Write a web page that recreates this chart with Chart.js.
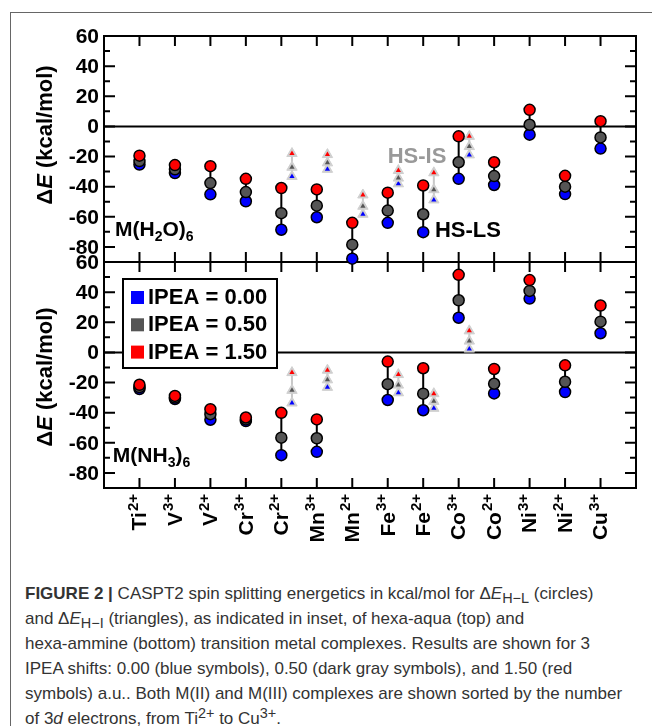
<!DOCTYPE html>
<html>
<head>
<meta charset="utf-8">
<script src="https://cdn.jsdelivr.net/npm/chart.js@4.4.1/dist/chart.umd.min.js"></script>
<style>
  body { margin:0; background:#fff; width:652px; height:726px; overflow:hidden; position:relative; font-family:"Liberation Sans", Arial, sans-serif; }
  #frame { position:absolute; left:10px; top:12px; width:700px; height:760px; border-left:1.5px solid #666; border-top:1.5px solid #666; }
  canvas { position:absolute; left:0; top:0; }
  #topPanel { z-index:2; }
  #botPanel { z-index:1; }
  #caption { position:absolute; left:25px; top:581px; font-size:17px; line-height:25px; color:#333; white-space:nowrap; }
  #caption sub { font-size:0.85em; vertical-align:-0.3em; line-height:0; }
  #caption sup { font-size:0.85em; vertical-align:0.45em; line-height:0; }
</style>
</head>
<body>
<div id="frame"></div>
<canvas id="topPanel" width="652" height="560"></canvas>
<canvas id="botPanel" width="652" height="560"></canvas>
<div id="caption">
<div><b>FIGURE 2 |</b> CASPT2 spin splitting energetics in kcal/mol for Δ<i>E</i><sub>H−L</sub> (circles)</div>
<div>and Δ<i>E</i><sub>H−I</sub> (triangles), as indicated in inset, of hexa-aqua (top) and</div>
<div>hexa-ammine (bottom) transition metal complexes. Results are shown for 3</div>
<div>IPEA shifts: 0.00 (blue symbols), 0.50 (dark gray symbols), and 1.50 (red</div>
<div>symbols) a.u.. Both M(II) and M(III) complexes are shown sorted by the number</div>
<div>of 3<i>d</i> electrons, from Ti<sup>2+</sup> to Cu<sup>3+</sup>.</div>
</div>
<script>
const categories = ["Ti", "V", "V", "Cr", "Cr", "Mn", "Mn", "Fe", "Fe", "Co", "Co", "Ni", "Ni", "Cu"];
const charges = ["2+", "3+", "2+", "3+", "2+", "3+", "2+", "3+", "2+", "3+", "2+", "3+", "2+", "3+"];
const ipeaLabels = ["IPEA = 0.00", "IPEA = 0.50", "IPEA = 1.50"];
const ipeaColors = ["#0000ff", "#555555", "#ff0000"];

// hexa-aqua, high-low spin (circles)
const aquaHL000 = [-25.3, -31.0, -45.1, -49.7, -68.6, -60.3, -87.8, -64.0, -70.2, -34.8, -38.9, -5.5, -44.9, -14.7];
const aquaHL050 = [-23.0, -28.5, -37.6, -43.6, -57.6, -52.6, -78.5, -55.9, -58.3, -23.8, -33.0, 1.1, -40.0, -7.3];
const aquaHL150 = [-19.4, -25.7, -26.4, -34.8, -40.9, -41.8, -64.0, -44.0, -39.2, -6.6, -23.8, 11.0, -32.8, 3.5];
// hexa-aqua, high-intermediate spin (triangles)
const aquaHI000 = [null, null, null, null, -33.2, -28.5, -58.3, -38.1, -48.8, -18.9, null, null, null, null];
const aquaHI050 = [null, null, null, null, -27.1, -24.2, -53.0, -34.3, -42.0, -13.4, null, null, null, null];
const aquaHI150 = [null, null, null, null, -18.0, -18.7, -45.5, -29.3, -30.8, -6.6, null, null, null, null];

// hexa-ammine
const ammHL000 = [-24.3, -30.9, -44.7, -45.6, -68.2, -66.0, null, -31.6, -38.4, 23.0, -27.2, 35.7, -26.3, 12.7];
const ammHL050 = [-23.0, -30.0, -41.0, -44.5, -56.6, -57.0, null, -21.1, -27.4, 34.6, -20.8, 40.8, -19.5, 20.4];
const ammHL150 = [-21.5, -28.9, -37.7, -43.2, -40.1, -44.5, null, -6.1, -10.5, 51.5, -11.0, 48.0, -8.6, 31.1];
const ammHI000 = [null, null, null, null, -33.6, -23.2, null, -26.8, -37.1, 2.2, null, null, null, null];
const ammHI050 = [null, null, null, null, -25.2, -18.2, null, -21.7, -32.5, 7.5, null, null, null, null];
const ammHI150 = [null, null, null, null, -13.4, -11.8, null, -14.7, -27.4, 14.3, null, null, null, null];

const triOffset = 0.3;
const FONT = '"Liberation Sans", Arial, sans-serif';

function stemData(series, dx) {
  const pts = [];
  categories.forEach((c, i) => {
    const vals = series.map(s => s[i]).filter(v => v !== null);
    if (vals.length < 2) return;
    pts.push({x: i + 1 + dx, y: Math.max(...vals)}, {x: i + 1 + dx, y: Math.min(...vals)}, {x: i + 1.5 + dx, y: null});
  });
  return pts;
}

function pointsOf(values, dx) {
  return values.map((v, i) => ({x: i + 1 + dx, y: v}));
}

function buildDatasets(hl, hi) {
  const ds = [];
  ds.push({data: stemData(hl, 0), showLine: true, spanGaps: false, borderColor: "#000", borderWidth: 2, pointRadius: 0, order: 20, clip: false});
  ds.push({data: stemData(hi, triOffset), showLine: true, spanGaps: false, borderColor: "#c8c8c8", borderWidth: 2, pointRadius: 0, order: 30, clip: false});
  hi.forEach((s, k) => {
    ds.push({data: pointsOf(s, triOffset), pointStyle: "triangle", pointRadius: 6, backgroundColor: "#cfcfcf", borderColor: "#cfcfcf", borderWidth: 1, order: 25 - k * 2, clip: false});
    ds.push({data: pointsOf(s, triOffset), pointStyle: "triangle", pointRadius: 3, backgroundColor: ipeaColors[k], borderWidth: 0, order: 24 - k * 2, clip: false});
  });
  hl.forEach((s, k) => {
    ds.push({data: pointsOf(s, 0), pointStyle: "circle", pointRadius: 5.5, backgroundColor: ipeaColors[k], borderColor: "#000", borderWidth: 1.5, order: 3 - k, clip: false});
  });
  return ds;
}

function drawRich(ctx, x, y, parts) {
  // parts: [text, font, dy]
  let cx = x;
  parts.forEach(([t, f, dy]) => {
    ctx.font = f;
    ctx.fillText(t, cx, y + (dy || 0));
    cx += ctx.measureText(t).width;
  });
}

const panelPlugin = {
  id: "panel",
  beforeDatasetsDraw(chart, args, opts) {
    const {ctx, chartArea: a} = chart;
    const xs = chart.scales.x, ys = chart.scales.y;
    ctx.save();
    ctx.strokeStyle = "#000";
    ctx.lineWidth = 2;
    // zero line
    const y0 = ys.getPixelForValue(0);
    ctx.beginPath(); ctx.moveTo(a.left, y0); ctx.lineTo(a.right, y0); ctx.stroke();
    // frame
    ctx.strokeRect(a.left, a.top, a.right - a.left, a.bottom - a.top);
    // y ticks, both sides, inward
    for (let v = ys.min + 10; v < ys.max; v += 10) {
      const py = ys.getPixelForValue(v);
      const len = v % 20 === 0 ? 11 : 6;
      ctx.beginPath();
      ctx.moveTo(a.left, py); ctx.lineTo(a.left + len, py);
      ctx.moveTo(a.right, py); ctx.lineTo(a.right - len, py);
      ctx.stroke();
    }
    // x ticks top and bottom, inward
    for (let i = 1; i <= categories.length; i++) {
      const px = xs.getPixelForValue(i);
      ctx.beginPath();
      ctx.moveTo(px, a.top); ctx.lineTo(px, a.top + 10);
      ctx.moveTo(px, a.bottom); ctx.lineTo(px, a.bottom - 10);
      ctx.stroke();
    }
    ctx.restore();
  },
  afterDraw(chart, args, opts) {
    const {ctx, chartArea: a} = chart;
    const xs = chart.scales.x, ys = chart.scales.y;
    ctx.save();
    ctx.fillStyle = "#000";
    // y tick labels
    ctx.font = "bold 21px " + FONT;
    ctx.textAlign = "right";
    ctx.textBaseline = "middle";
    for (let v = ys.min; v <= ys.max; v += 10) {
      if (v % 20 !== 0) continue;
      ctx.fillText(String(v), a.left - 5, ys.getPixelForValue(v) + 1);
    }
    // y axis title
    ctx.save();
    ctx.translate(46, opts.titleY);
    ctx.rotate(-Math.PI / 2);
    ctx.textAlign = "left";
    const parts = [["\u0394", "bold 22px " + FONT], ["E", "italic bold 22px " + FONT], [" (kcal/mol)", "bold 22px " + FONT]];
    let w = 0;
    parts.forEach(([t, f]) => { ctx.font = f; w += ctx.measureText(t).width; });
    drawRich(ctx, -w / 2, 0, parts);
    ctx.restore();

    // complex name
    ctx.textAlign = "left";
    ctx.textBaseline = "alphabetic";
    const big = "bold 21px " + FONT, sm = "bold 14px " + FONT;
    const nx = xs.getPixelForValue(opts.name.x), ny = ys.getPixelForValue(opts.name.y);
    drawRich(ctx, nx, ny, opts.name.parts.map(([t, s]) => [t, s ? sm : big, s ? 5 : 0]));

    // extra labels
    (opts.notes || []).forEach(n => {
      ctx.fillStyle = n.color;
      ctx.font = "bold 22px " + FONT;
      ctx.fillText(n.text, xs.getPixelForValue(n.x), ys.getPixelForValue(n.y));
    });

    // legend
    if (opts.legend) {
      const lx = a.left + 19, ly = a.top + 17, lw = 154, lh = 89;
      ctx.fillStyle = "#fff";
      ctx.fillRect(lx, ly, lw, lh);
      ctx.strokeStyle = "#000";
      ctx.lineWidth = 2;
      ctx.strokeRect(lx, ly, lw, lh);
      ctx.textBaseline = "middle";
      ctx.font = "bold 22px " + FONT;
      ipeaLabels.forEach((t, k) => {
        const ry = ly + 18 + k * 27.3;
        ctx.fillStyle = ipeaColors[k];
        ctx.fillRect(lx + 8, ry - 6, 13, 13);
        ctx.fillStyle = "#000";
        ctx.fillText(t, lx + 25, ry + 1);
      });
    }

    // category labels, rotated
    if (opts.xLabels) {
      categories.forEach((c, i) => {
        const px = xs.getPixelForValue(i + 1);
        ctx.save();
        ctx.translate(px, a.bottom + 6);
        ctx.rotate(-Math.PI / 2);
        ctx.fillStyle = "#000";
        ctx.textAlign = "right";
        ctx.textBaseline = "middle";
        ctx.font = "bold 15px " + FONT;
        const cw = ctx.measureText(charges[i]).width;
        ctx.fillText(charges[i], 0, -6);
        ctx.font = "bold 21px " + FONT;
        ctx.fillText(c, -cw - 1, 1);
        ctx.restore();
      });
    }
    ctx.restore();
  }
};

function makePanel(id, hl, hi, padTop, padBottom, opts) {
  return new Chart(document.getElementById(id), {
    type: "scatter",
    data: {datasets: buildDatasets(hl, hi)},
    options: {
      responsive: false,
      animation: false,
      layout: {padding: {left: 104, right: 16, top: padTop, bottom: padBottom}},
      scales: {
        x: {type: "linear", min: 0, max: 15, display: false},
        y: {type: "linear", min: -90, max: 60, display: false}
      },
      plugins: {legend: {display: false}, tooltip: {enabled: false}, panel: opts}
    },
    plugins: [panelPlugin]
  });
}

makePanel("topPanel", [aquaHL000, aquaHL050, aquaHL150], [aquaHI000, aquaHI050, aquaHI150], 36, 298, {
  titleY: 135,
  name: {x: 0.31, y: -73, parts: [["M(H", 0], ["2", 1], ["O)", 0], ["6", 1]]},
  notes: [{text: "HS-IS", color: "#999999", x: 8.0, y: -24}, {text: "HS-LS", color: "#000000", x: 9.33, y: -73.5}],
  legend: false,
  xLabels: false
});

makePanel("botPanel", [ammHL000, ammHL050, ammHL150], [ammHI000, ammHI050, ammHI150], 262, 72, {
  titleY: 377,
  name: {x: 0.25, y: -73, parts: [["M(NH", 0], ["3", 1], [")", 0], ["6", 1]]},
  notes: [],
  legend: true,
  xLabels: true
});
</script>
</body>
</html>
